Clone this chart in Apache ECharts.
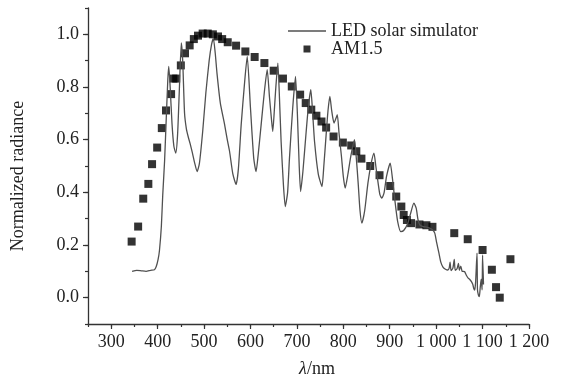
<!DOCTYPE html>
<html>
<head>
<meta charset="utf-8">
<script src="https://cdn.jsdelivr.net/npm/echarts@6/dist/echarts.min.js"></script>
<style>
html,body{margin:0;padding:0;background:#fff;}
#main{width:564px;height:378px;}
</style>
</head>
<body>
<div id="main"></div>
<script>
// ---- Data ----
var ledWavelength = [345,355,365,375,385,393,397,401,404,408,411,415,419,422,424,427,431,435,439,443,447,451,454,458,462,466,470,475,480,485,490,497,504,511,516,520,524,528,535,544,550,555,562,569,574,580,587,593,600,607,612,617,623,630,636,641,645,648,651,654,659,662,666,671,675,680,684,691,697,701,705,708,713,720,725,730,734,738,746,754,758,763,767,771,775,780,784,787,791,796,800,804,810,816,824,828,832,836,840,846,853,860,866,870,875,879,883,888,893,901,906,911,917,924,930,939,945,952,957,961,965,972,980,986,992,997,1001,1006,1010,1015,1020,1025,1028,1030,1032,1036,1039,1041,1045,1048,1050,1053,1056,1061,1065,1069,1072,1076,1079,1081,1083,1085,1088,1089,1091,1093,1095,1097,1099,1100,1102];
var ledRadiance = [0.100,0.104,0.102,0.100,0.104,0.106,0.118,0.145,0.18,0.27,0.39,0.52,0.70,0.83,0.878,0.80,0.66,0.575,0.549,0.62,0.80,0.967,0.90,0.70,0.64,0.61,0.585,0.549,0.51,0.479,0.51,0.63,0.78,0.90,0.96,0.985,0.93,0.85,0.74,0.66,0.60,0.555,0.47,0.43,0.49,0.657,0.81,0.916,0.72,0.53,0.479,0.55,0.657,0.783,0.866,0.76,0.682,0.631,0.70,0.783,0.891,0.78,0.593,0.428,0.346,0.40,0.53,0.72,0.84,0.70,0.50,0.403,0.48,0.631,0.73,0.79,0.70,0.593,0.47,0.422,0.50,0.619,0.71,0.764,0.71,0.663,0.68,0.695,0.62,0.536,0.46,0.416,0.47,0.536,0.60,0.53,0.435,0.33,0.283,0.33,0.435,0.51,0.549,0.50,0.435,0.39,0.378,0.40,0.46,0.511,0.45,0.371,0.29,0.251,0.255,0.283,0.32,0.359,0.34,0.295,0.276,0.270,0.268,0.264,0.258,0.245,0.21,0.169,0.135,0.115,0.108,0.105,0.112,0.135,0.103,0.112,0.145,0.104,0.11,0.13,0.104,0.12,0.10,0.099,0.085,0.074,0.07,0.061,0.05,0.035,0.029,0.06,0.169,0.03,0.01,0.004,0.04,0.07,0.03,0.162,0.05];

var am15Wavelength = [344,358,369,380,388,399,409,418,429,434,440,450,459,469,478,487,497,508,519,530,539,551,569,589,609,630,650,670,689,707,719,731,742,753,763,779,799,817,828,839,858,878,901,914,925,930,937,946,964,979,992,1039,1068,1100,1120,1129,1137,1160];
var am15Radiance = [0.213,0.27,0.376,0.432,0.507,0.570,0.644,0.711,0.773,0.832,0.832,0.882,0.928,0.958,0.982,0.995,1.003,1.003,1.0,0.992,0.982,0.97,0.957,0.935,0.914,0.891,0.862,0.832,0.802,0.771,0.739,0.714,0.691,0.669,0.646,0.612,0.589,0.578,0.556,0.528,0.50,0.465,0.424,0.384,0.346,0.314,0.295,0.283,0.278,0.275,0.269,0.245,0.222,0.181,0.106,0.04,0.0,0.146];

var xTickLabels = ['300','400','500','600','700','800','900','1 000','1 100','1 200'];
var yTickLabels = ['0.0','0.2','0.4','0.6','0.8','1.0'];
var seriesNames = ['LED solar simulator','AM1.5'];

// ---- Chart ----
var FONT = '"Liberation Serif","Times New Roman",serif';
var AX = '#333';
var TXT = '#222';
function pairs(xs, ys){ var o=[]; for(var i=0;i<xs.length;i++) o.push([xs[i], ys[i]]); return o; }

var G = {left:88, right:35, top:8, bottom:54};
var X0 = 250, X1 = 1200, Y0 = -0.1, Y1 = 1.1;
var W = 564 - G.left - G.right, H = 378 - G.top - G.bottom;
var sx = W / (X1 - X0), sy = H / (Y1 - Y0);
var XT0 = 300, YT0 = 0, YT1 = 1.0;
var dx = (XT0 - X0) * sx, dyB = (YT0 - Y0) * sy, dyT = (Y1 - YT1) * sy;

var chart = echarts.init(document.getElementById('main'), null, {renderer:'canvas'});
chart.setOption({
  animation:false,
  backgroundColor:'#fff',
  textStyle:{fontFamily:FONT},
  grid:[
    {left:G.left, right:G.right, top:G.top, bottom:G.bottom, containLabel:false, outerBoundsMode:'none'},
    {left:G.left + dx, right:G.right, top:G.top + dyT, bottom:G.bottom + dyB, containLabel:false, outerBoundsMode:'none'}
  ],
  legend:{
    orient:'vertical', left:283, top:17, itemGap:0, itemWidth:38, itemHeight:7,
    textStyle:{fontFamily:FONT, fontSize:18, color:TXT},
    data:[
      {name:seriesNames[0], icon:'path://M0,0L38,0L38,1.3L0,1.3Z'},
      {name:seriesNames[1], icon:'path://M0,0L10,0L10,10L0,10Z'}
    ]
  },
  xAxis:[{
    gridIndex:0, type:'value', min:X0, max:X1, interval:50, position:'bottom',
    axisLine:{show:true, onZero:false, lineStyle:{color:AX, width:1.3}},
    axisTick:{show:true, length:3, lineStyle:{color:AX, width:1.2}},
    axisLabel:{show:false}, splitLine:{show:false},
    name:'{i|λ}/nm', nameLocation:'middle', nameGap:36,
    nameTextStyle:{fontFamily:FONT, fontSize:18, color:TXT, padding:[0,0,0,17],
      rich:{i:{fontStyle:'italic', fontFamily:FONT, fontSize:18, color:TXT}}}
  },{
    gridIndex:1, type:'value', min:XT0, max:X1, interval:100, position:'bottom', offset:dyB,
    axisLine:{show:true, onZero:false, lineStyle:{color:AX, width:0, opacity:0}},
    axisTick:{show:true, length:5, lineStyle:{color:AX, width:1.2}},
    axisLabel:{show:true, margin:9, fontFamily:FONT, fontSize:18, color:TXT,
      formatter:function(v){ var i=Math.round((v-XT0)/100); return xTickLabels[i]||''; }},
    splitLine:{show:false}
  }],
  yAxis:[{
    gridIndex:0, type:'value', min:Y0, max:Y1, interval:0.1, position:'left',
    axisLine:{show:true, onZero:false, lineStyle:{color:AX, width:1.3}},
    axisTick:{show:true, length:3, lineStyle:{color:AX, width:1.2}},
    axisLabel:{show:false}, splitLine:{show:false},
    name:'Normalized radiance', nameLocation:'middle', nameGap:61,
    nameTextStyle:{fontFamily:FONT, fontSize:18, color:TXT, padding:[0,20,0,0]}
  },{
    gridIndex:1, type:'value', min:YT0, max:YT1, interval:0.2, position:'left', offset:dx,
    axisLine:{show:true, onZero:false, lineStyle:{color:AX, width:0, opacity:0}},
    axisTick:{show:true, length:5, lineStyle:{color:AX, width:1.2}},
    axisLabel:{show:true, margin:9, fontFamily:FONT, fontSize:18, color:TXT,
      formatter:function(v){ var i=Math.round((v-YT0)/0.2); return yTickLabels[i]||''; }},
    splitLine:{show:false}
  }],
  series:[{
    name:seriesNames[0], type:'line', xAxisIndex:0, yAxisIndex:0,
    data:pairs(ledWavelength, ledRadiance),
    showSymbol:false, symbol:'none', smooth:0.2,
    lineStyle:{color:'#505050', width:1.3},
    itemStyle:{color:'#505050'}
  },{
    name:seriesNames[1], type:'scatter', xAxisIndex:0, yAxisIndex:0,
    data:pairs(am15Wavelength, am15Radiance),
    symbol:'rect', symbolSize:8,
    itemStyle:{color:'#000'}
  }]
});
</script>
</body>
</html>
